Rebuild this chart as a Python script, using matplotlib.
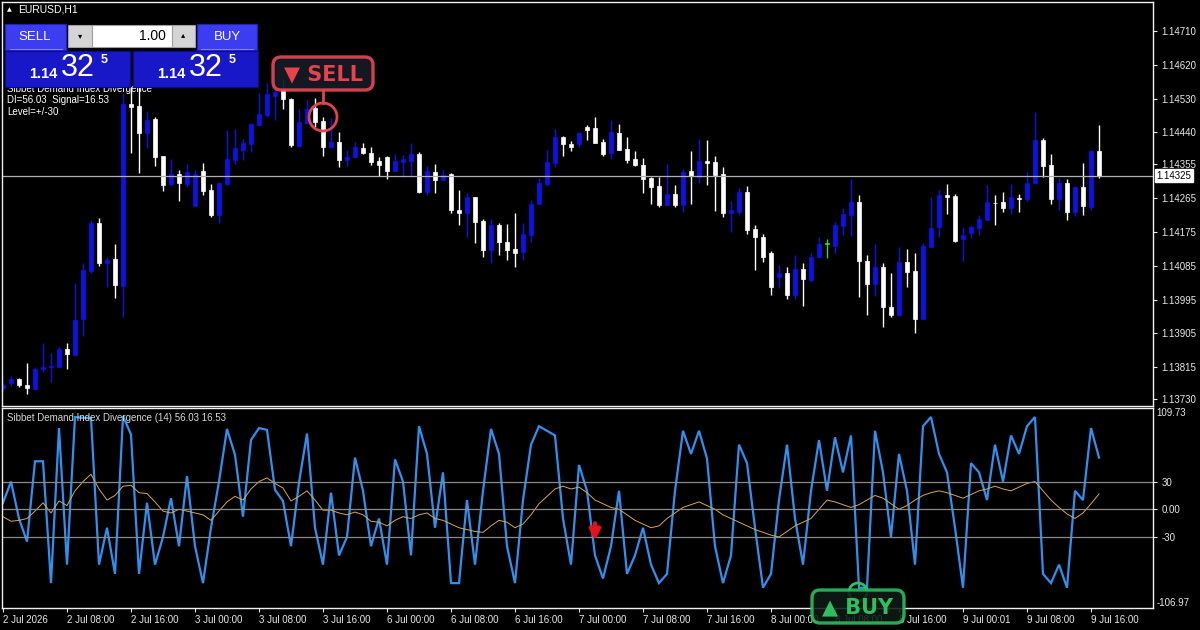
import numpy as np
import matplotlib.pyplot as plt
from matplotlib.patches import Rectangle, FancyBboxPatch, Circle
import matplotlib.transforms as mtransforms

plt.rcParams['font.family'] = ['Liberation Sans', 'DejaVu Sans']

# EURUSD H1 candles (open, high, low, close)
opens = [1.13759, 1.13772, 1.13783, 1.13767, 1.13756, 1.13809, 1.13815, 1.13816, 1.13862, 1.13847,
         1.13942, 1.14072, 1.14200, 1.14093, 1.14102, 1.14031, 1.14516, 1.14510, 1.14439, 1.14475,
         1.14377, 1.14303, 1.14328, 1.14303, 1.14244, 1.14338, 1.14287, 1.14220, 1.14303, 1.14367,
         1.14393, 1.14409, 1.14460, 1.14486, 1.14537, 1.14553, 1.14528, 1.14404, 1.14466, 1.14504,
         1.14471, 1.14402, 1.14415, 1.14367, 1.14374, 1.14398, 1.14386, 1.14365, 1.14375, 1.14338,
         1.14362, 1.14365, 1.14383, 1.14282, 1.14335, 1.14313, 1.14329, 1.14233, 1.14226, 1.14267,
         1.14205, 1.14127, 1.14193, 1.14149, 1.14129, 1.14122, 1.14167, 1.14249, 1.14303, 1.14359,
         1.14429, 1.14409, 1.14409, 1.14454, 1.14451, 1.14415, 1.14384, 1.14439, 1.14396, 1.14368,
         1.14353, 1.14318, 1.14297, 1.14247, 1.14276, 1.14247, 1.14338, 1.14322, 1.14365, 1.14362,
         1.14329, 1.14226, 1.14229, 1.14282, 1.14182, 1.14162, 1.14120, 1.14054, 1.14066, 1.14007,
         1.14076, 1.14047, 1.14107, 1.14143, 1.14138, 1.14191, 1.14220, 1.14256, 1.14098, 1.14036,
         1.14082, 1.13974, 1.13954, 1.14096, 1.14072, 1.13942, 1.14136, 1.14189, 1.14273, 1.14271,
         1.14155, 1.14173, 1.14185, 1.14207, 1.14253, 1.14256, 1.14238, 1.14265, 1.14262, 1.14305,
         1.14420, 1.14353, 1.14262, 1.14306, 1.14229, 1.14295, 1.14242, 1.14391]
highs = [1.13773, 1.13791, 1.13785, 1.13826, 1.13816, 1.13879, 1.13853, 1.13869, 1.13880, 1.14039,
         1.14092, 1.14207, 1.14211, 1.14109, 1.14143, 1.14544, 1.14562, 1.14562, 1.14498, 1.14480,
         1.14377, 1.14368, 1.14340, 1.14356, 1.14340, 1.14358, 1.14303, 1.14309, 1.14446, 1.14448,
         1.14422, 1.14464, 1.14544, 1.14572, 1.14580, 1.14580, 1.14532, 1.14502, 1.14526, 1.14531,
         1.14480, 1.14478, 1.14442, 1.14393, 1.14415, 1.14411, 1.14402, 1.14374, 1.14377, 1.14383,
         1.14380, 1.14413, 1.14389, 1.14351, 1.14356, 1.14340, 1.14333, 1.14287, 1.14279, 1.14269,
         1.14209, 1.14209, 1.14200, 1.14196, 1.14225, 1.14198, 1.14260, 1.14318, 1.14393, 1.14448,
         1.14430, 1.14418, 1.14442, 1.14460, 1.14480, 1.14422, 1.14473, 1.14462, 1.14429, 1.14391,
         1.14371, 1.14322, 1.14320, 1.14356, 1.14300, 1.14342, 1.14391, 1.14422, 1.14420, 1.14377,
         1.14347, 1.14258, 1.14291, 1.14297, 1.14193, 1.14170, 1.14125, 1.14087, 1.14081, 1.14114,
         1.14093, 1.14120, 1.14161, 1.14155, 1.14202, 1.14238, 1.14315, 1.14273, 1.14114, 1.14143,
         1.14093, 1.14066, 1.14136, 1.14129, 1.14118, 1.14146, 1.14267, 1.14287, 1.14303, 1.14276,
         1.14189, 1.14193, 1.14220, 1.14300, 1.14273, 1.14282, 1.14303, 1.14276, 1.14335, 1.14495,
         1.14424, 1.14383, 1.14318, 1.14315, 1.14297, 1.14359, 1.14393, 1.14460]
lows = [1.13754, 1.13765, 1.13763, 1.13743, 1.13754, 1.13803, 1.13774, 1.13815, 1.13809, 1.13845,
        1.13898, 1.14065, 1.14084, 1.14028, 1.13998, 1.13949, 1.14384, 1.14333, 1.14398, 1.14351,
        1.14285, 1.14297, 1.14258, 1.14294, 1.14244, 1.14273, 1.14214, 1.14200, 1.14300, 1.14356,
        1.14367, 1.14389, 1.14457, 1.14482, 1.14473, 1.14502, 1.14402, 1.14402, 1.14464, 1.14455,
        1.14377, 1.14398, 1.14347, 1.14351, 1.14371, 1.14383, 1.14353, 1.14324, 1.14315, 1.14335,
        1.14322, 1.14322, 1.14279, 1.14273, 1.14278, 1.14313, 1.14226, 1.14193, 1.14162, 1.14146,
        1.14107, 1.14091, 1.14114, 1.14100, 1.14081, 1.14100, 1.14149, 1.14249, 1.14297, 1.14347,
        1.14377, 1.14391, 1.14400, 1.14420, 1.14411, 1.14377, 1.14368, 1.14393, 1.14358, 1.14351,
        1.14279, 1.14249, 1.14242, 1.14247, 1.14242, 1.14229, 1.14249, 1.14306, 1.14300, 1.14232,
        1.14216, 1.14176, 1.14220, 1.14170, 1.14074, 1.14096, 1.14007, 1.14025, 1.13996, 1.13996,
        1.13978, 1.14042, 1.14105, 1.14105, 1.14118, 1.14167, 1.14164, 1.14001, 1.13954, 1.14004,
        1.13923, 1.13949, 1.13951, 1.14028, 1.13907, 1.13942, 1.14136, 1.14161, 1.14223, 1.14149,
        1.14098, 1.14158, 1.14167, 1.14207, 1.14193, 1.14229, 1.14223, 1.14229, 1.14258, 1.14305,
        1.14322, 1.14249, 1.14233, 1.14207, 1.14217, 1.14220, 1.14233, 1.14318]
closes = [1.13767, 1.13783, 1.13767, 1.13759, 1.13809, 1.13816, 1.13819, 1.13862, 1.13850, 1.13940,
          1.14074, 1.14200, 1.14091, 1.14100, 1.14034, 1.14516, 1.14507, 1.14438, 1.14473, 1.14375,
          1.14300, 1.14329, 1.14306, 1.14335, 1.14329, 1.14285, 1.14220, 1.14306, 1.14368, 1.14398,
          1.14411, 1.14462, 1.14489, 1.14542, 1.14548, 1.14528, 1.14407, 1.14469, 1.14502, 1.14469,
          1.14402, 1.14415, 1.14367, 1.14375, 1.14400, 1.14386, 1.14362, 1.14353, 1.14338, 1.14365,
          1.14368, 1.14383, 1.14282, 1.14338, 1.14313, 1.14327, 1.14233, 1.14226, 1.14267, 1.14202,
          1.14127, 1.14193, 1.14149, 1.14127, 1.14120, 1.14170, 1.14249, 1.14306, 1.14362, 1.14429,
          1.14409, 1.14402, 1.14438, 1.14446, 1.14413, 1.14383, 1.14442, 1.14393, 1.14367, 1.14353,
          1.14315, 1.14295, 1.14247, 1.14276, 1.14247, 1.14335, 1.14324, 1.14365, 1.14359, 1.14327,
          1.14225, 1.14233, 1.14282, 1.14180, 1.14162, 1.14109, 1.14029, 1.14066, 1.14007, 1.14076,
          1.14049, 1.14107, 1.14143, 1.14143, 1.14193, 1.14223, 1.14256, 1.14098, 1.14036, 1.14082,
          1.13976, 1.13954, 1.14096, 1.14069, 1.13942, 1.14138, 1.14185, 1.14273, 1.14267, 1.14152,
          1.14167, 1.14189, 1.14209, 1.14256, 1.14251, 1.14238, 1.14269, 1.14263, 1.14306, 1.14420,
          1.14351, 1.14262, 1.14306, 1.14229, 1.14295, 1.14244, 1.14391, 1.14325]

# Sibbet Demand Index (14): DI line and signal line
di_values = [7, 30, -10, -35, 52, 52, -80, 88, -60, 100, 99, 99, -60, -20, -70, 101, 81, -70, 7, -60,
             -30, 12, -40, 36, -40, -80, -20, 30, 87, 59, -8, 75, 88, 86, 21, 9, -40, 29, 82, -20,
             -60, 18, -50, -30, 56, 20, -40, -10, -60, 54, 30, -50, 90, 60, -20, 40, -80, -80, 10, -60,
             20, 87, 60, -40, -80, 10, 70, 90, 85, 80, -10, -60, 48, 20, -50, -75, -40, 20, -70, -50,
             -20, -60, -80, -70, 20, 85, 60, 85, 55, -40, -80, -50, 70, 50, -20, -85, -70, 10, 70, -10,
             -60, 20, 75, 20, 78, 40, 80, -85, -85, 85, 40, -30, 60, 20, -60, 90, 100, 60, 40, -20,
             -85, 50, 40, 10, 70, 30, 80, 60, 90, 100, -70, -80, -60, -85, 20, 10, 88, 56.03]
signal_values = [-8, -13, -12, -10, -2, 7, -4, 9, 4, 20, 30, 38, 22, 10, 15, 25, 26, 18, 17, 8,
                 -2, -4, 0, -2, -4, -6, -12, -2, 8, 14, 10, 22, 30, 34, 28, 23, 9, 14, 20, 10,
                 -1, -1, -4, -6, -3, -6, -13, -14, -18, -12, -8, -10, -6, -4, -10, -12, -16, -20, -22, -24,
                 -25, -18, -12, -14, -20, -16, -6, 6, 14, 22, 25, 22, 24, 18, 10, 6, 2, 0, -6, -12,
                 -16, -20, -18, -10, -4, 2, 5, 8, 4, 0, -6, -10, -14, -18, -22, -25, -28, -30, -24, -18,
                 -14, -10, 0, 10, 8, 5, 2, 5, 10, 15, 12, 6, 0, 4, 10, 15, 18, 20, 18, 15,
                 12, 16, 20, 22, 25, 22, 20, 24, 28, 30, 20, 10, 2, -5, -10, -4, 6, 16.53]

time_labels = ['2 Jul 2026', '2 Jul 08:00', '2 Jul 16:00', '3 Jul 00:00', '3 Jul 08:00', '3 Jul 16:00',
               '6 Jul 00:00', '6 Jul 08:00', '6 Jul 16:00', '7 Jul 00:00', '7 Jul 08:00', '7 Jul 16:00',
               '8 Jul 00:00', '8 Jul 08:00', '8 Jul 16:00', '9 Jul 00:01', '9 Jul 08:00', '9 Jul 16:00']
price_ticks = [1.14710, 1.14620, 1.14530, 1.14440, 1.14355, 1.14265, 1.14175, 1.14085,
               1.13995, 1.13905, 1.13815, 1.13730]
last_price = 1.14325
di_levels = [30, 0, -30]
di_max, di_min = 109.73, -106.97
sell_bar = 40
buy_bar = 107
arrow_bar = 74

BG = 'black'
BULL = '#1010e8'
BEAR = '#ffffff'
DOJI = '#40d040'
FG = '#e8e8e8'

W, H = 1200, 630
fig = plt.figure(figsize=(W / 100, H / 100), dpi=100, facecolor=BG)

def px_axes(x0, y0, x1, y1):
    return fig.add_axes([x0 / W, 1 - y1 / H, (x1 - x0) / W, (y1 - y0) / H])

ax = px_axes(2, 2, 1153, 406)
ax2 = px_axes(2, 408, 1153, 608)

n = len(opens)
idx = np.arange(n)
o = np.array(opens); h = np.array(highs); l = np.array(lows); c = np.array(closes)
colors = np.where(c > o, BULL, np.where(c < o, BEAR, DOJI))

for a in (ax, ax2):
    a.set_facecolor(BG)
    for s in a.spines.values():
        s.set_color('#f0f0f0')
        s.set_linewidth(1)
    a.set_xlim(-0.125, 143.75)

# candles
ax.vlines(idx, l, h, colors=colors, linewidth=1)
body_bottom = np.minimum(o, c)
body_h = np.maximum(np.abs(c - o), 0.000012)
ax.bar(idx, body_h, bottom=body_bottom, width=0.62, color=colors, edgecolor=colors, linewidth=0.5)
ax.set_ylim(1.137114, 1.147873)
ax.axhline(last_price, color='#b0b0b0', linewidth=0.9)

ax.yaxis.tick_right()
ax.set_yticks(price_ticks)
ax.set_yticklabels([f'{p:.5f}' for p in price_ticks])
ax.tick_params(axis='y', colors=FG, labelsize=7, length=3, pad=3, width=0.8)
ax.set_xticks([])

ax.text(1.003, last_price, f'{last_price:.5f}', transform=mtransforms.blended_transform_factory(ax.transAxes, ax.transData),
        ha='left', va='center', fontsize=7, color='black',
        bbox=dict(boxstyle='square,pad=0.15', facecolor='white', edgecolor='white'))

# indicator panel
ax2.plot(idx, di_values, color='#3190ee', linewidth=1.6, solid_joinstyle='miter')
ax2.plot(idx, signal_values, color='#d9a55a', linewidth=0.7)
for lv in di_levels:
    ax2.axhline(lv, color='#8a8a8a', linewidth=0.9)
ax2.set_ylim(di_min, di_max)
ax2.yaxis.tick_right()
ax2.set_yticks(di_levels)
ax2.set_yticklabels(['30', '0.00', '-30'])
ax2.tick_params(axis='y', colors=FG, labelsize=7, length=3, pad=3, width=0.8)
ax2.text(1.003, 1.0, f'{di_max:.2f}', transform=ax2.transAxes, ha='left', va='top', fontsize=7, color=FG)
ax2.text(1.003, 0.0, f'{di_min:.2f}', transform=ax2.transAxes, ha='left', va='bottom', fontsize=7, color=FG)
ax2.set_xticks(np.arange(0, n, 8)[:len(time_labels)])
ax2.set_xticklabels(time_labels, ha='left')
ax2.tick_params(axis='x', colors=FG, labelsize=7, length=3, pad=2, width=0.8)
ax2.text(0.004, 0.975, f'Sibbet Demand Index Divergence (14) {di_values[-1]:.2f} {signal_values[-1]:.2f}',
         transform=ax2.transAxes, ha='left', va='top', fontsize=7, color='#d8d8d8')

# red arrow in indicator panel
ax2.annotate('', xy=(arrow_bar, -37), xytext=(arrow_bar, -12),
             arrowprops=dict(arrowstyle='-|>', color='#e8101c', lw=2.8, mutation_scale=16))

# overlay in pixel coordinates
ov = fig.add_axes([0, 0, 1, 1], zorder=10)
ov.set_xlim(0, W); ov.set_ylim(H, 0); ov.axis('off'); ov.patch.set_alpha(0)

ov.text(7, 10, '\u25b2', fontsize=4.5, color='white', ha='left', va='center', family='DejaVu Sans')
ov.text(18, 10, 'EURUSD,H1', fontsize=7.5, color='white', ha='left', va='center')
ov.text(7, 89, 'Sibbet Demand Index Divergence', fontsize=7, color='white', ha='left', va='center', zorder=1)
ov.text(7, 100, f'DI={di_values[-1]:.2f}  Signal={signal_values[-1]:.2f}', fontsize=7, color='white', ha='left', va='center')
ov.text(7, 112, 'Level=+/-30', fontsize=7, color='white', ha='left', va='center')

# one-click trading panel
def box(x0, y0, x1, y1, fc, ec=None, z=3):
    ov.add_patch(Rectangle((x0, y0), x1 - x0, y1 - y0, facecolor=fc, edgecolor=ec or fc, linewidth=0.8, zorder=z))

box(5, 24, 66, 50, '#3c3cf0', '#2020c0')
box(197, 24, 257, 50, '#3c3cf0', '#2020c0')
ov.plot([10, 62], [49, 49], color='#8080ff', lw=0.8, zorder=4)
ov.plot([201, 253], [49, 49], color='#8080ff', lw=0.8, zorder=4)
ov.text(35, 37, 'SELL', fontsize=9.5, color='white', ha='center', va='center', zorder=5)
ov.text(227, 37, 'BUY', fontsize=9.5, color='white', ha='center', va='center', zorder=5)
box(68, 25, 92, 47, '#d4d4d4', '#a0a0a0')
box(92, 25, 172, 47, '#ffffff', '#a0a0a0')
box(172, 25, 195, 47, '#d4d4d4', '#a0a0a0')
ov.text(80, 36, '\u25be', fontsize=6, color='black', ha='center', va='center', family='DejaVu Sans', zorder=5)
ov.text(183, 35, '\u25b4', fontsize=6, color='black', ha='center', va='center', family='DejaVu Sans', zorder=5)
ov.text(166, 36, '1.00', fontsize=10, color='black', ha='right', va='center', zorder=5)
for x0 in (5, 133):
    box(x0, 51, x0 + 125, 86.5, '#1818c8', '#0a0a90')
    ov.text(x0 + 24, 74, '1.14', fontsize=10.5, fontweight='bold', color='white', ha='left', va='center', zorder=5)
    ov.text(x0 + 56, 68, '32', fontsize=22, color='white', ha='left', va='center', zorder=5)
    ov.text(x0 + 96, 60, '5', fontsize=9, fontweight='bold', color='white', ha='left', va='center', zorder=5)

# SELL signal marker
sell_x = 3 + 8 * sell_bar
ov.add_patch(FancyBboxPatch((273, 57), 100, 33, boxstyle='round,pad=0,rounding_size=8',
                            facecolor='#161a26', edgecolor='#e0444e', linewidth=2.4, alpha=0.95, zorder=6))
ov.text(323, 74, '\u25bc SELL', fontsize=15, fontweight='bold', color='#e8424c', ha='center', va='center',
        family='DejaVu Sans', zorder=7)
ov.plot([sell_x, sell_x], [91, 103], color='#e0444e', lw=2, zorder=6)
ov.add_patch(Circle((sell_x, 117), 14, facecolor='none', edgecolor='#e0444e', linewidth=2, zorder=6))

# BUY signal marker
buy_x = 3 + 8 * buy_bar
ov.add_patch(Circle((buy_x - 1, 592), 9, facecolor='none', edgecolor='#30c060', linewidth=2, zorder=6))
ov.add_patch(FancyBboxPatch((812, 590), 92, 33, boxstyle='round,pad=0,rounding_size=8',
                            facecolor='#0e1a16', edgecolor='#2ec060', linewidth=2.4, alpha=0.88, zorder=7))
ov.text(858, 607, '\u25b2 BUY', fontsize=15, fontweight='bold', color='#2ec060', ha='center', va='center',
        family='DejaVu Sans', zorder=8)

fig.savefig('out.png', dpi=100, facecolor=BG)
